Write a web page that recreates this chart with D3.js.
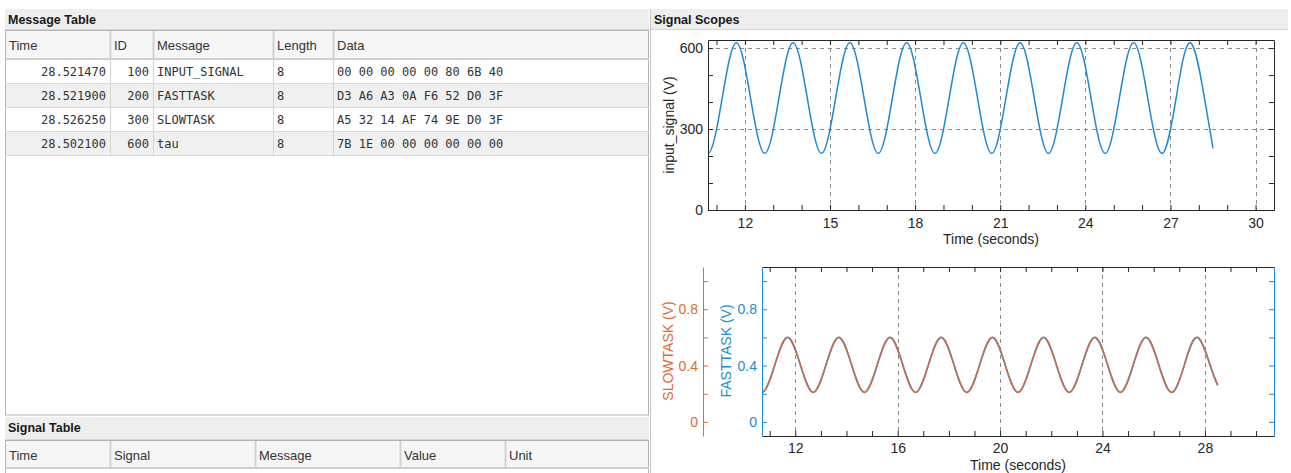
<!DOCTYPE html>
<html>
<head>
<meta charset="utf-8">
<script src="https://cdn.jsdelivr.net/npm/d3@7"></script>
<style>
  html, body { margin: 0; padding: 0; background: #fff; overflow: hidden; }
  svg { display: block; font-family: "Liberation Sans", Arial, sans-serif; }
</style>
</head>
<body>
<div id="app"></div>
<script>
// --- table contents ---
const msgColumns = ["Time", "ID", "Message", "Length", "Data"];
const msgTime = ["28.521470", "28.521900", "28.526250", "28.502100"];
const msgId = [100, 200, 300, 600];
const msgName = ["INPUT_SIGNAL", "FASTTASK", "SLOWTASK", "tau"];
const msgLength = [8, 8, 8, 8];
const msgData = [
  "00 00 00 00 00 80 6B 40",
  "D3 A6 A3 0A F6 52 D0 3F",
  "A5 32 14 AF 74 9E D0 3F",
  "7B 1E 00 00 00 00 00 00"
];
const sigColumns = ["Time", "Signal", "Message", "Value", "Unit"];

// --- scope samples (peaks, troughs and mid points);
//     the first one sits just left of the visible window and gets clipped ---
const sampleTime = [
  10.2, 10.7, 11.2, 11.7, 12.2, 12.7, 13.2, 13.7, 14.2, 14.7, 15.2, 15.7, 16.2,
  16.7, 17.2, 17.7, 18.2, 18.7, 19.2, 19.7, 20.2, 20.7, 21.2, 21.7, 22.2,
  22.7, 23.2, 23.7, 24.2, 24.7, 25.2, 25.7, 26.2, 26.7, 27.2, 27.7, 28.2, 28.5
];
const inputSignal = [
  415, 210, 415, 620, 415, 210, 415, 620, 415, 210, 415, 620, 415,
  210, 415, 620, 415, 210, 415, 620, 415, 210, 415, 620, 415,
  210, 415, 620, 415, 210, 415, 620, 415, 210, 415, 620, 415, 228
];
const fastTask = [
  0.405, 0.21, 0.405, 0.60, 0.405, 0.21, 0.405, 0.60, 0.405, 0.21, 0.405, 0.60, 0.405,
  0.21, 0.405, 0.60, 0.405, 0.21, 0.405, 0.60, 0.405, 0.21, 0.405, 0.60, 0.405,
  0.21, 0.405, 0.60, 0.405, 0.21, 0.405, 0.60, 0.405, 0.21, 0.405, 0.60, 0.405, 0.26
];
const slowTask = [
  0.405, 0.21, 0.405, 0.60, 0.405, 0.21, 0.405, 0.60, 0.405, 0.21, 0.405, 0.60, 0.405,
  0.21, 0.405, 0.60, 0.405, 0.21, 0.405, 0.60, 0.405, 0.21, 0.405, 0.60, 0.405,
  0.21, 0.405, 0.60, 0.405, 0.21, 0.405, 0.60, 0.405, 0.21, 0.405, 0.60, 0.405, 0.26
];

// tick values
const topXLabels = [12, 15, 18, 21, 24, 27, 30];
const topYTicks = [0, 100, 200, 300, 400, 500, 600];
const topYLabels = [0, 300, 600];
const botXLabels = [12, 16, 20, 24, 28];
const botYTicks = [0, 0.2, 0.4, 0.6, 0.8, 1.0];
const botYLabels = [0, 0.4, 0.8];
const secondTicks = d3.range(11, 31);

const W = 1291, H = 473;
const BLUE = "#2189d1", ORANGE = "#e06a35", INK = "#262626";
const MONO = "'DejaVu Sans Mono', 'Liberation Mono', monospace";

const svg = d3.select("#app").append("svg")
    .attr("width", W)
    .attr("height", H);

// ================= left side: tables =================
const left = 5, right = 649;

function titleBar(x0, x1, y0, y1, label) {
    svg.append("rect")
        .attr("x", x0).attr("y", y0)
        .attr("width", x1 - x0).attr("height", y1 - y0)
        .attr("fill", "#eeeeee");
    svg.append("line")
        .attr("x1", x0).attr("x2", x1)
        .attr("y1", y1 - 0.5).attr("y2", y1 - 0.5)
        .attr("stroke", "#d6d6d6");
    svg.append("text")
        .attr("x", x0 + 3).attr("y", y0 + 14.5)
        .attr("font-size", 12.5).attr("font-weight", "bold")
        .attr("fill", "#1a1a1a")
        .text(label);
}

// column edges for the tables
const msgX = d3.scaleOrdinal().domain(msgColumns).range([left, 110, 153, 273, 333]);
const msgEnd = d3.scaleOrdinal().domain(msgColumns).range([110, 153, 273, 333, right]);
const sigX = d3.scaleOrdinal().domain(sigColumns).range([left, 110, 255, 400, 505]);
const sigEnd = d3.scaleOrdinal().domain(sigColumns).range([110, 255, 400, 505, right]);

titleBar(left, right, 9, 30, "Message Table");

// table body
svg.append("rect")
    .attr("x", left + 0.5).attr("y", 30.5)
    .attr("width", right - left - 1).attr("height", 415 - 30.5)
    .attr("fill", "#fff").attr("stroke", "#b3b3b3");

function headerRow(cols, xs, xe, y0, y1) {
    svg.append("rect")
        .attr("x", left + 1).attr("y", y0)
        .attr("width", right - left - 2).attr("height", y1 - y0)
        .attr("fill", "#f6f6f6");
    svg.append("line")
        .attr("x1", left).attr("x2", right)
        .attr("y1", y1 - 1).attr("y2", y1 - 1)
        .attr("stroke", "#cfcfcf").attr("stroke-width", 2);
    svg.append("g").selectAll("line")
        .data(cols.slice(1))
        .join("line")
        .attr("x1", d => xs(d) + 0.5).attr("x2", d => xs(d) + 0.5)
        .attr("y1", y0).attr("y2", y1 - 2)
        .attr("stroke", "#d2d2d2").attr("stroke-width", 2);
    svg.append("g").selectAll("text")
        .data(cols)
        .join("text")
        .attr("x", d => xs(d) + 4)
        .attr("y", (y0 + y1) / 2 + 4.5)
        .attr("font-size", 13)
        .attr("fill", "#333")
        .text(d => d);
}

headerRow(msgColumns, msgX, msgEnd, 31, 60);

const rowY = d3.scaleBand().domain(d3.range(msgTime.length)).range([60, 156]);

const rows = svg.append("g").selectAll("g")
    .data(d3.range(msgTime.length))
    .join("g")
    .attr("transform", i => `translate(0,${rowY(i)})`);

rows.append("rect")
    .attr("x", left + 1).attr("y", 0)
    .attr("width", right - left - 2).attr("height", rowY.bandwidth())
    .attr("fill", i => i % 2 ? "#f0f0f0" : "#fff");

rows.append("line")
    .attr("x1", left).attr("x2", right)
    .attr("y1", rowY.bandwidth() - 0.5).attr("y2", rowY.bandwidth() - 0.5)
    .attr("stroke", "#dcdcdc");

rows.selectAll("line.sep")
    .data(msgColumns.slice(1))
    .join("line")
    .attr("class", "sep")
    .attr("x1", d => msgX(d) + 0.5).attr("x2", d => msgX(d) + 0.5)
    .attr("y1", 0).attr("y2", rowY.bandwidth())
    .attr("stroke", "#d4d4d4");

const cellText = [
    { col: "Time", vals: msgTime, anchor: "end" },
    { col: "ID", vals: msgId, anchor: "end" },
    { col: "Message", vals: msgName, anchor: "start" },
    { col: "Length", vals: msgLength, anchor: "start" },
    { col: "Data", vals: msgData, anchor: "start" }
];

rows.each(function (i) {
    d3.select(this).selectAll("text")
        .data(cellText)
        .join("text")
        .attr("x", c => c.anchor === "end" ? msgEnd(c.col) - 4 : msgX(c.col) + 4)
        .attr("y", rowY.bandwidth() / 2 + 4)
        .attr("text-anchor", c => c.anchor)
        .attr("font-family", MONO)
        .attr("font-size", 12)
        .attr("fill", "#333")
        .text(c => c.vals[i]);
});

// signal table
titleBar(left, right, 417, 440, "Signal Table");
svg.append("rect")
    .attr("x", left + 0.5).attr("y", 440.5)
    .attr("width", right - left - 1).attr("height", 40)
    .attr("fill", "#fff").attr("stroke", "#b3b3b3");
headerRow(sigColumns, sigX, sigEnd, 441, 469);

// divider between the two halves
svg.append("line")
    .attr("x1", 650.5).attr("x2", 650.5)
    .attr("y1", 9).attr("y2", H)
    .attr("stroke", "#c4c4c4");

// ================= right side: scopes =================
titleBar(651, W - 3, 9, 30, "Signal Scopes");

function styleAxis(g, color, textColor) {
    g.attr("font-size", 14).attr("font-family", "'Liberation Sans', Arial, sans-serif");
    g.select(".domain").attr("stroke", color);
    g.selectAll(".tick line").attr("stroke", color);
    g.selectAll(".tick text").attr("fill", textColor);
}

function labelFmt(list) {
    return d => list.includes(d) ? String(d) : "";
}

function clipTo(id, x, y) {
    svg.append("clipPath").attr("id", id)
        .append("rect")
        .attr("x", x.range()[0]).attr("y", y.range()[1])
        .attr("width", x.range()[1] - x.range()[0])
        .attr("height", y.range()[0] - y.range()[1]);
    return `url(#${id})`;
}

// ---- top scope: input_signal ----
const xTop = d3.scaleLinear().domain([10.7, 30.65]).range([708, 1274]);
const yTop = d3.scaleLinear().domain([0, 630]).range([210, 40]);

const gridTop = svg.append("g")
    .attr("stroke", "#8a8a8a").attr("stroke-dasharray", "4,4");
gridTop.selectAll("line.v")
    .data(topXLabels)
    .join("line")
    .attr("class", "v")
    .attr("x1", d => Math.round(xTop(d)) + 0.5).attr("x2", d => Math.round(xTop(d)) + 0.5)
    .attr("y1", yTop.range()[1]).attr("y2", yTop.range()[0]);
gridTop.selectAll("line.h")
    .data([300, 600])
    .join("line")
    .attr("class", "h")
    .attr("x1", xTop.range()[0]).attr("x2", xTop.range()[1])
    .attr("y1", d => Math.round(yTop(d)) + 0.5).attr("y2", d => Math.round(yTop(d)) + 0.5);

svg.append("path")
    .datum(sampleTime.map((t, i) => [t, inputSignal[i]]))
    .attr("clip-path", clipTo("clipTop", xTop, yTop))
    .attr("fill", "none")
    .attr("stroke", BLUE)
    .attr("stroke-width", 1.5)
    .attr("d", d3.line().x(d => xTop(d[0])).y(d => yTop(d[1])).curve(d3.curveNatural));

svg.append("g").attr("transform", "translate(0,210)")
    .call(d3.axisBottom(xTop).tickValues(secondTicks).tickFormat(labelFmt(topXLabels))
        .tickSizeInner(-5).tickSizeOuter(0).tickPadding(8))
    .call(g => styleAxis(g, INK, INK));
svg.append("g").attr("transform", "translate(0,40)")
    .call(d3.axisTop(xTop).tickValues(secondTicks).tickFormat("")
        .tickSizeInner(-5).tickSizeOuter(0))
    .call(g => styleAxis(g, INK, INK));
svg.append("g").attr("transform", "translate(708,0)")
    .call(d3.axisLeft(yTop).tickValues(topYTicks).tickFormat(labelFmt(topYLabels))
        .tickSizeInner(-5).tickSizeOuter(0).tickPadding(5))
    .call(g => styleAxis(g, INK, INK));
svg.append("g").attr("transform", "translate(1274,0)")
    .call(d3.axisRight(yTop).tickValues(topYTicks).tickFormat("")
        .tickSizeInner(-5).tickSizeOuter(0))
    .call(g => styleAxis(g, INK, INK));

svg.append("text")
    .attr("transform", "translate(674,125) rotate(-90)")
    .attr("text-anchor", "middle")
    .attr("font-size", 14).attr("fill", INK)
    .text("input_signal (V)");
svg.append("text")
    .attr("x", (708 + 1274) / 2).attr("y", 244)
    .attr("text-anchor", "middle")
    .attr("font-size", 14).attr("fill", INK)
    .text("Time (seconds)");

// ---- bottom scope: FASTTASK / SLOWTASK ----
const xBot = d3.scaleLinear().domain([10.7, 30.7]).range([762, 1274]);
const yBot = d3.scaleLinear().domain([-0.1, 1.1]).range([436, 267]);

svg.append("g")
    .attr("stroke", "#8a8a8a").attr("stroke-dasharray", "4,4")
    .selectAll("line")
    .data(botXLabels)
    .join("line")
    .attr("x1", d => Math.round(xBot(d)) + 0.5).attr("x2", d => Math.round(xBot(d)) + 0.5)
    .attr("y1", yBot.range()[1]).attr("y2", yBot.range()[0]);

const botLine = vals => d3.line()
    .x((t, i) => xBot(t))
    .y((t, i) => yBot(vals[i]))
    .curve(d3.curveNatural)(sampleTime);

const clipBot = clipTo("clipBot", xBot, yBot);
svg.append("path")
    .attr("clip-path", clipBot)
    .attr("fill", "none").attr("stroke", BLUE).attr("stroke-width", 1.7)
    .attr("d", botLine(fastTask));
svg.append("path")
    .attr("clip-path", clipBot)
    .attr("fill", "none").attr("stroke", ORANGE).attr("stroke-width", 1.3)
    .attr("d", botLine(slowTask));

svg.append("g").attr("transform", "translate(0,436)")
    .call(d3.axisBottom(xBot).tickValues(secondTicks).tickFormat(labelFmt(botXLabels))
        .tickSizeInner(-5).tickSizeOuter(0).tickPadding(7))
    .call(g => styleAxis(g, INK, INK));
svg.append("g").attr("transform", "translate(0,267)")
    .call(d3.axisTop(xBot).tickValues(secondTicks).tickFormat("")
        .tickSizeInner(-5).tickSizeOuter(0))
    .call(g => styleAxis(g, INK, INK));
svg.append("g").attr("transform", "translate(762,0)")
    .call(d3.axisLeft(yBot).tickValues(botYTicks).tickFormat(labelFmt(botYLabels))
        .tickSizeInner(-5).tickSizeOuter(0).tickPadding(5))
    .call(g => styleAxis(g, BLUE, BLUE));
svg.append("g").attr("transform", "translate(1274,0)")
    .call(d3.axisRight(yBot).tickValues(botYTicks).tickFormat("")
        .tickSizeInner(-5).tickSizeOuter(0))
    .call(g => styleAxis(g, BLUE, BLUE));
svg.append("g").attr("transform", "translate(703,0)")
    .call(d3.axisLeft(yBot).tickValues(botYTicks).tickFormat(labelFmt(botYLabels))
        .tickSizeInner(-5).tickSizeOuter(0).tickPadding(5))
    .call(g => styleAxis(g, ORANGE, ORANGE));

svg.append("text")
    .attr("transform", "translate(673,351) rotate(-90)")
    .attr("text-anchor", "middle")
    .attr("font-size", 14).attr("fill", ORANGE)
    .text("SLOWTASK (V)");
svg.append("text")
    .attr("transform", "translate(731,351) rotate(-90)")
    .attr("text-anchor", "middle")
    .attr("font-size", 14).attr("fill", BLUE)
    .text("FASTTASK (V)");
svg.append("text")
    .attr("x", (762 + 1274) / 2).attr("y", 470)
    .attr("text-anchor", "middle")
    .attr("font-size", 14).attr("fill", INK)
    .text("Time (seconds)");
</script>
</body>
</html>
